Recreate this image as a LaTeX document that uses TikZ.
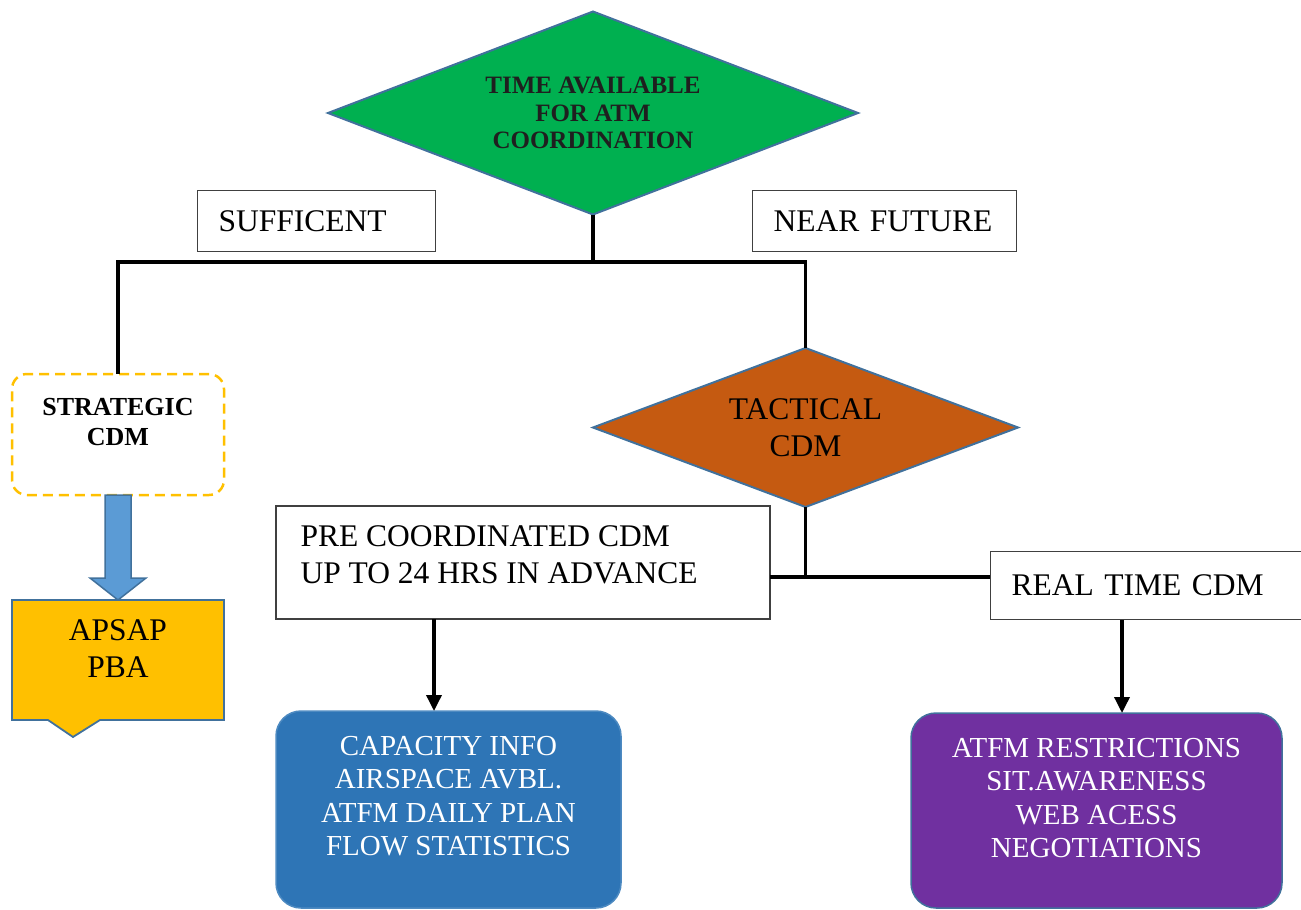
\documentclass[tikz,border=0pt]{standalone}
\usepackage{fontspec}
\setmainfont{Liberation Serif}
\usetikzlibrary{shapes.geometric,arrows.meta,calc}
\definecolor{dgreen}{HTML}{00B050}
\definecolor{orng}{HTML}{C55A11}
\definecolor{yel}{HTML}{FFC000}
\definecolor{arrblue}{HTML}{5B9BD5}
\definecolor{bblue}{HTML}{2E75B6}
\definecolor{purp}{HTML}{7030A0}
\definecolor{diaborder}{HTML}{41719C}
\definecolor{boxgray}{HTML}{404040}
\newcommand\fbig{\fontsize{31.5}{37}\selectfont}
\newcommand\fmid{\fontsize{29}{33.5}\selectfont}
\begin{document}
\begin{tikzpicture}[x=1pt,y=-1pt,
  conn/.style={line width=3.5pt, draw=black},
  arr/.style={conn, -{Triangle[width=15pt,length=16pt]}},
  lbox/.style={draw=boxgray, line width=1.3pt, fill=white, inner xsep=21pt, inner ysep=0pt, align=left, anchor=north west, font=\fbig},
  dia/.style={diamond, draw=diaborder, line width=2pt, inner sep=0pt, outer sep=0pt, align=center},
  rbox/.style={rounded corners=25pt, line width=1.5pt, anchor=north west, inner sep=0pt, outer sep=0pt},
  wtxt/.style={text=white, font=\fmid, align=center}
]
\useasboundingbox (0,0) rectangle (1301,910);

% top decision
\node[dia, aspect=2.61, fill=dgreen, minimum width=530, minimum height=203,
      font=\bfseries\fontsize{25}{27.5}\selectfont, text=black!88] (time) at (593,113)
      {TIME AVAILABLE\\FOR ATM\\COORDINATION};

\node[lbox, text width=196, minimum height=61] (suf) at (197,190) {SUFFICENT};
\node[lbox, text width=222, minimum height=61] (near) at (752,190) {NEAR FUTURE};

% strategic
\node[draw=yel, dash pattern=on 10pt off 6pt, line width=2.5pt, rounded corners=15pt,
      minimum width=212, minimum height=121, anchor=north west, inner sep=0pt, outer sep=0pt] (strat) at (12,374) {};
\node[font=\bfseries\fontsize{26}{30}\selectfont, align=center] (strattxt) at (118,422) {STRATEGIC\\CDM};

% APSAP
\node[minimum width=212, minimum height=120, anchor=north west, inner sep=0pt, outer sep=0pt] (apsap) at (12,600) {};
\filldraw[fill=yel, draw=diaborder, line width=1.8pt]
  (apsap.north west) -- (apsap.north east) -- (apsap.south east)
  -- ($(apsap.south west)+(88,0)$) -- ($(apsap.south west)+(61,17)$)
  -- ($(apsap.south west)+(36,0)$) -- (apsap.south west) -- cycle;
\node[font=\fbig, align=center] (apsaptxt) at (118,649) {APSAP\\PBA};

% block arrow
\filldraw[fill=arrblue, draw=diaborder, line width=1.5pt]
  ($(strat.south)+(-13,0)$) -- ($(strat.south)+(-13,83)$) -- ($(strat.south)+(-28,83)$)
  -- (apsap.north) -- ($(strat.south)+(28,83)$) -- ($(strat.south)+(13,83)$)
  -- ($(strat.south)+(13,0)$) -- cycle;

% tactical
\node[dia, aspect=2.67, fill=orng, minimum width=425, minimum height=159, font=\fbig] (tact) at (805.5,427.5) {TACTICAL\\CDM};

% tactical children
\node[draw=boxgray, line width=1.3pt, fill=white, minimum width=494, minimum height=113,
      anchor=north west, inner sep=0pt, outer sep=0pt] (pre) at (276,506) {};
\node[font=\fbig, align=left, anchor=west] (pretxt) at (297,555)
  {PRE COORDINATED CDM\\UP TO 24 HRS IN ADVANCE};
\node[lbox, text width=269, minimum height=68] (real) at (990,551) {REAL TIME CDM};

% result boxes
\node[rbox, fill=bblue, draw=bblue!85!white, minimum width=345, minimum height=197] (blue) at (276,711) {};
\node[wtxt] (bluetxt) at (448.5,796)
  {CAPACITY INFO\\AIRSPACE AVBL.\\ATFM DAILY PLAN\\FLOW STATISTICS};
\node[rbox, fill=purp, draw=diaborder, minimum width=371, minimum height=195] (purpb) at (911,713) {};
\node[wtxt] (purptxt) at (1096.5,798)
  {ATFM RESTRICTIONS\\SIT.AWARENESS\\WEB ACESS\\NEGOTIATIONS};

% connectors
\coordinate (jl) at (118,262);
\draw[conn] (time.south) -- (time.south |- jl);
\draw[conn] (strat.north) -- (strat.north |- jl) -- (tact.north |- jl) -- (tact.north);
\coordinate (jt) at (805.5,577);
\draw[conn] (tact.south) -- (jt);
\draw[conn] (jt -| pre.east) -- (jt -| real.west);
\draw[arr] ($(pre.south west)+(158,0)$) coordinate (a1) -- (a1 |- blue.north);
\draw[arr] ($(real.south west)+(132,0)$) coordinate (a2) -- (a2 |- purpb.north);
\end{tikzpicture}
\end{document}
